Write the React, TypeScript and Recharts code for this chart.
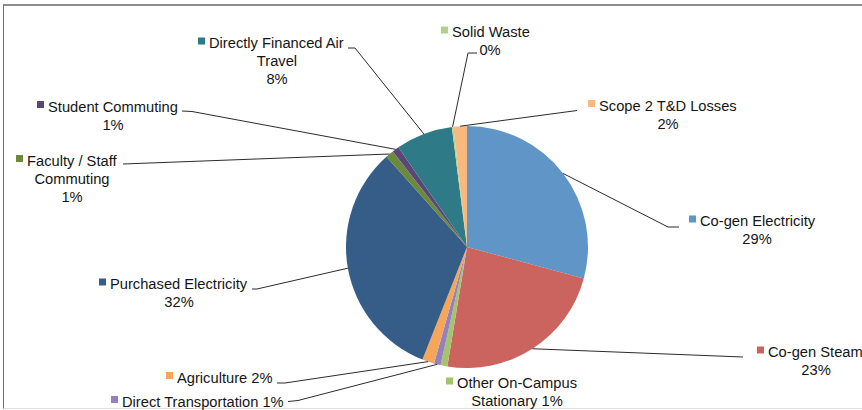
import { Cell, Pie, PieChart } from "recharts";

const CATEGORIES = [
  "Co-gen Electricity",
  "Co-gen Steam",
  "Other On-Campus Stationary",
  "Direct Transportation",
  "Agriculture",
  "Purchased Electricity",
  "Faculty / Staff Commuting",
  "Student Commuting",
  "Directly Financed Air Travel",
  "Solid Waste",
  "Scope 2 T&D Losses",
];

// share of total emissions, percent
const SHARES = [29.2, 23.4, 0.9, 0.9, 1.6, 32.4, 1.1, 0.9, 7.6, 0.2, 1.8];

const COLORS = [
  "#5f96c7",
  "#cb635e",
  "#a3c46b",
  "#9681bd",
  "#f5a65b",
  "#355d87",
  "#6c8a3b",
  "#5a4679",
  "#2e7b87",
  "#b2cf8c",
  "#f8b97f",
];

// how each label wraps; "%" stands for the rounded share
const LABEL_LINES = [
  ["Co-gen Electricity", "%"],
  ["Co-gen Steam", "%"],
  ["Other On-Campus", "Stationary %"],
  ["Direct Transportation %"],
  ["Agriculture %"],
  ["Purchased Electricity", "%"],
  ["Faculty / Staff", "Commuting", "%"],
  ["Student Commuting", "%"],
  ["Directly Financed Air", "Travel", "%"],
  ["Solid Waste", "%"],
  ["Scope 2 T&D Losses", "%"],
];

// label placement: sx = start of first line, mx = centre of later lines,
// y = middle of first line, leader = bends from label towards the slice
const LABEL_LAYOUT = [
  { sx: 700, mx: 757, y: 221, leader: [[679, 227], [668, 227]] },
  { sx: 768, mx: 816, y: 352, leader: [[743, 357]] },
  { sx: 457, mx: 517, y: 383, leader: [] },
  { sx: 122, mx: 203, y: 401.5, leader: [[288, 401.5], [298, 400.5]] },
  { sx: 177, mx: 224, y: 377.5, leader: [[277, 383], [285, 383]] },
  { sx: 110, mx: 179, y: 284, leader: [[252, 289], [257, 289]] },
  { sx: 27, mx: 72, y: 160.5, leader: [[123, 164]] },
  { sx: 48, mx: 113, y: 106.5, leader: [[182, 111], [192, 111.5]] },
  { sx: 209, mx: 277, y: 43, leader: [[348, 48], [355, 48]] },
  { sx: 452, mx: 490, y: 32, leader: [[477, 53], [468, 53]] },
  { sx: 599, mx: 668, y: 105.5, leader: [[577, 110.5]] },
];

const data = CATEGORIES.map((name, i) => ({ name, value: SHARES[i] }));

const RADIAN = Math.PI / 180;
const FONT = "'Liberation Sans', Arial, sans-serif";
const LINE_H = 18;

function renderLabel(props: any) {
  const { cx, cy, midAngle, outerRadius, index, percent } = props;
  const layout = LABEL_LAYOUT[index];
  const pct = `${Math.round(percent * 100)}%`;
  const lines = LABEL_LINES[index].map((line) => line.replace("%", pct));
  const ex = cx + outerRadius * Math.cos(-midAngle * RADIAN);
  const ey = cy + outerRadius * Math.sin(-midAngle * RADIAN);
  const pts = layout.leader.length ? [...layout.leader, [ex, ey]] : [];
  return (
    <g key={`label-${index}`}>
      {pts.length > 0 && (
        <polyline
          points={pts.map((p) => p.join(",")).join(" ")}
          fill="none"
          stroke="#2b2b2b"
          strokeWidth={1}
        />
      )}
      <rect x={layout.sx - 11} y={layout.y - 5.5} width={7} height={7} fill={COLORS[index]} />
      {lines.map((line, i) => (
        <text
          key={i}
          x={i === 0 ? layout.sx : layout.mx}
          y={layout.y + i * LINE_H}
          textAnchor={i === 0 ? "start" : "middle"}
          dominantBaseline="central"
          fontFamily={FONT}
          fontSize={14.7}
          fill="#151515"
        >
          {line}
        </text>
      ))}
    </g>
  );
}

export default function App() {
  return (
    <div
      style={{
        position: "absolute",
        left: 0,
        top: 0,
        width: 862,
        height: 410,
        overflow: "hidden",
        background: "#fff",
      }}
    >
      <div
        style={{
          position: "absolute",
          left: 3,
          top: 4,
          width: 900,
          height: 402,
          borderTop: "2px solid #8e8e8e",
          borderLeft: "1px solid #6e6e6e",
          borderBottom: "1px solid #e2e2e2",
        }}
      />
      <div style={{ position: "absolute", left: 0, top: 0 }}>
        <PieChart width={862} height={410} margin={{ top: 0, right: 0, bottom: 0, left: 0 }}>
          <Pie
            data={data}
            dataKey="value"
            nameKey="name"
            cx={467}
            cy={247}
            outerRadius={121}
            startAngle={90}
            endAngle={-270}
            stroke="none"
            label={renderLabel}
            labelLine={false}
            isAnimationActive={false}
          >
            {data.map((entry, i) => (
              <Cell key={entry.name} fill={COLORS[i]} />
            ))}
          </Pie>
        </PieChart>
      </div>
    </div>
  );
}
